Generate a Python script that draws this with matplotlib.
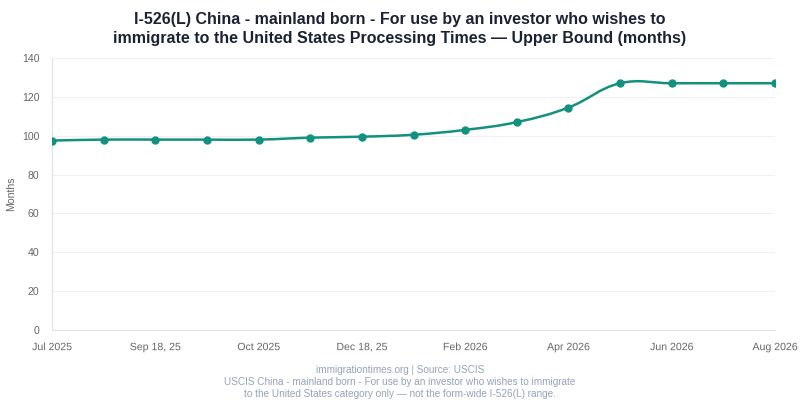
import matplotlib.pyplot as plt
import matplotlib.patheffects as pe
import numpy as np
from matplotlib.path import Path
from matplotlib.patches import PathPatch

plt.rcParams["font.family"] = ["Liberation Sans", "DejaVu Sans"]

months = [97.5, 98, 98, 98, 98, 99, 99.5, 100.5, 103, 107, 114.5, 127, 127, 127, 127]
tick_labels = ["Jul 2025", "Sep 18, 25", "Oct 2025", "Dec 18, 25",
               "Feb 2026", "Apr 2026", "Jun 2026", "Aug 2026"]
y_ticks = [0, 20, 40, 60, 80, 100, 120, 140]

title = ("I-526(L) China - mainland born - For use by an investor who wishes to\n"
         "immigrate to the United States Processing Times \u2014 Upper Bound (months)")
footer = ("immigrationtimes.org | Source: USCIS\n"
          "USCIS China - mainland born - For use by an investor who wishes to immigrate\n"
          "to the United States category only \u2014 not the form-wide I-526(L) range.")

LINE = "#12917f"
GRID = "#eef0f4"
TICK = "#666666"


def smooth_path(xs, ys, sx, sy, tension=0.4):
    # chart.js style bezier, distances measured in pixel-ish space
    px = np.asarray(xs, float) * sx
    py = np.asarray(ys, float) * sy
    n = len(px)
    cp_prev = []
    cp_next = []
    for i in range(n):
        a = max(i - 1, 0)
        b = min(i + 1, n - 1)
        d01 = np.hypot(px[i] - px[a], py[i] - py[a])
        d12 = np.hypot(px[b] - px[i], py[b] - py[i])
        tot = d01 + d12
        s01 = d01 / tot if tot else 0
        s12 = d12 / tot if tot else 0
        fa, fb = tension * s01, tension * s12
        dx, dy = px[b] - px[a], py[b] - py[a]
        cp_prev.append((px[i] - fa * dx, py[i] - fa * dy))
        cp_next.append((px[i] + fb * dx, py[i] + fb * dy))
    verts = [(px[0], py[0])]
    codes = [Path.MOVETO]
    for i in range(n - 1):
        verts += [cp_next[i], cp_prev[i + 1], (px[i + 1], py[i + 1])]
        codes += [Path.CURVE4] * 3
    verts = [(x / sx, y / sy) for x, y in verts]
    return Path(verts, codes)


fig = plt.figure(figsize=(8, 4), dpi=100)
ax = fig.add_axes([0.065, 0.175, 0.90375, 0.68])

x = np.arange(len(months))
ax.add_patch(PathPatch(smooth_path(x, months, 51.64, 1.943), fill=False,
                       edgecolor=LINE, linewidth=1.8, zorder=3))
ax.plot(x, months, "o", color=LINE, markersize=5, zorder=4)

ax.set_xlim(0, len(months) - 1)
ax.set_ylim(0, 140)
ax.set_xticks(x[::2])
ax.set_xticklabels(tick_labels)
ax.set_yticks(y_ticks)
ax.tick_params(axis="both", colors=TICK, labelsize=7.6, length=0)
ax.tick_params(axis="x", pad=14.5)
ax.tick_params(axis="y", pad=9)
# draw x labels as paths so they share one baseline
for lbl in ax.get_xticklabels():
    lbl.set_verticalalignment("baseline")
    lbl.set_path_effects([pe.Normal()])
ax.set_ylabel("Months", color=TICK, fontsize=7.6)
ax.yaxis.set_label_coords(-0.05, 0.5)
ax.grid(True, axis="y", color=GRID, linewidth=0.8)
ax.set_axisbelow(True)
for side in ["top", "right"]:
    ax.spines[side].set_visible(False)
for side in ["left", "bottom"]:
    ax.spines[side].set_color("#dde1e8")
    ax.spines[side].set_linewidth(0.8)

fig.text(0.5, 0.9275, title, ha="center", va="center", fontsize=11.5,
         fontweight="bold", color="#1a2233", linespacing=1.35)
fig.text(0.5, 0.045, footer, ha="center", va="center", fontsize=7.2,
         color="#94a3b8", linespacing=1.3)

fig.savefig("out.png", dpi=100)
